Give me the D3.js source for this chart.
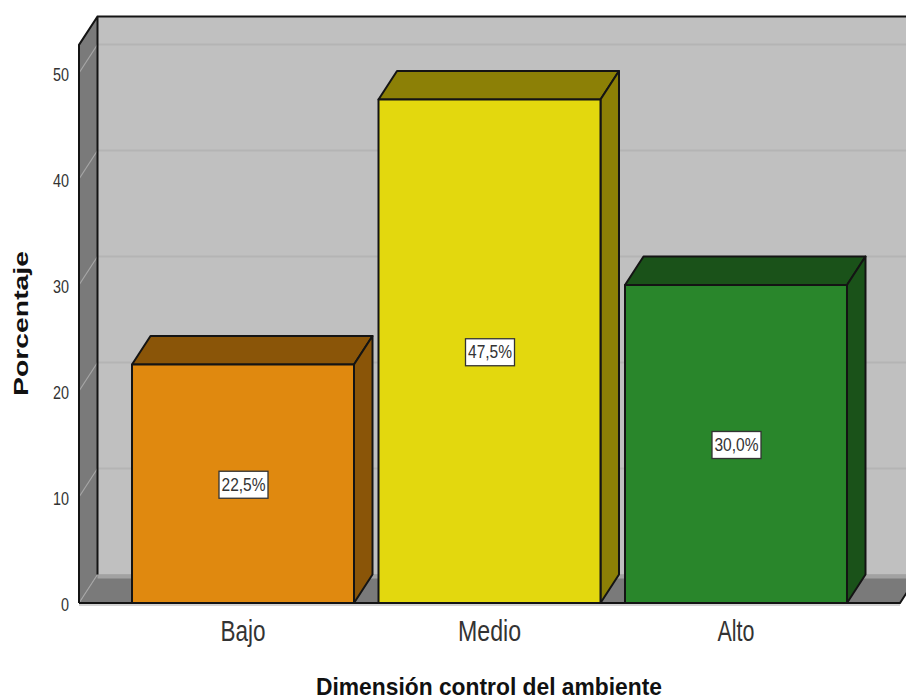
<!DOCTYPE html>
<html><head><meta charset="utf-8">
<script src="https://cdn.jsdelivr.net/npm/d3@7"></script>
<style>html,body{margin:0;padding:0;background:#fff;overflow:hidden}svg{display:block}text{font-family:"Liberation Sans",Arial,sans-serif}</style>
</head><body><svg id="c" width="906" height="700"></svg>
<script>
const categories = ["Bajo","Medio","Alto"];
const percentages = [22.5,47.5,30.0];
const valueLabels = ["22,5%","47,5%","30,0%"];
const frontColors = ["#e0890f","#e3d80e","#29862b"];
const shadeColors = ["#8a5508","#8c8006","#1a5219"];
const yTicks = [0,10,20,30,40,50];
const xTitle = "Dimensión control del ambiente";
const yTitle = "Porcentaje";

const W=906,H=700,dx=18.5,dy=-28.5;
const svg=d3.select("#c");
const y=d3.scaleLinear().domain([0,50]).range([603,73]);
const x=d3.scaleBand().domain(categories).range([120,859]).paddingInner(0.0994).paddingOuter(0.0487);
const wallL=79,floorR=900,wallT=y(52.65),INK="#141414";
const pts=a=>a.map(p=>p.join(",")).join(" ");

// back wall
svg.append("rect").attr("x",wallL+dx).attr("y",wallT+dy).attr("width",W-wallL-dx+20).attr("height",y(0)-wallT).attr("fill","#c0c0c0");
// left wall
svg.append("polygon").attr("points",pts([[wallL,wallT],[wallL+dx,wallT+dy],[wallL+dx,y(0)+dy],[wallL,y(0)]])).attr("fill","#7a7a7a");
// floor
svg.append("polygon").attr("points",pts([[wallL,y(0)],[wallL+dx,y(0)+dy],[floorR+dx,y(0)+dy],[floorR,y(0)]])).attr("fill","#7a7a7a");
svg.append("rect").attr("x",wallL+dx).attr("y",y(0)+dy).attr("width",W-wallL-dx).attr("height",4).attr("fill","#a2a2a2");
// gridlines
const g=svg.append("g");
yTicks.filter(d=>d>0).forEach(d=>{
  g.append("line").attr("x1",wallL+dx).attr("x2",W).attr("y1",y(d)+dy).attr("y2",y(d)+dy).attr("stroke","#b4b4b4").attr("stroke-width",2);
});
yTicks.forEach(d=>{
  g.append("line").attr("x1",wallL).attr("x2",wallL+dx).attr("y1",y(d)).attr("y2",y(d)+dy).attr("stroke","#a6a6a6").attr("stroke-width",1.2);
});
// wall outlines
svg.append("path").attr("fill","none").attr("stroke",INK).attr("stroke-width",2)
 .attr("d",`M${wallL},${y(0)}V${wallT}L${wallL+dx},${wallT+dy}H${W}M${wallL+dx},${wallT+dy}V${y(0)+dy}`);
svg.append("path").attr("fill","none").attr("stroke",INK).attr("stroke-width",2)
 .attr("d",`M${wallL},${y(0)}H${floorR}L${floorR+dx},${y(0)+dy}`);
svg.append("line").attr("x1",wallL).attr("x2",floorR).attr("y1",y(0)+2).attr("y2",y(0)+2).attr("stroke","#c4c4c4").attr("stroke-width",1.5);

// bars
const bars=svg.selectAll("g.bar").data(categories).join("g").attr("class","bar");
bars.each(function(c,i){
  const b=d3.select(this),x0=x(c),x1=x0+x.bandwidth(),yt=y(percentages[i]),yb=y(0);
  const st={stroke:INK,"stroke-width":2,"stroke-linejoin":"round"};
  const add=(t)=>{const e=b.append(t);Object.entries(st).forEach(([k,v])=>e.attr(k,v));return e;};
  add("polygon").attr("points",pts([[x0,yt],[x0+dx,yt+dy],[x1+dx,yt+dy],[x1,yt]])).attr("fill",shadeColors[i]);
  add("polygon").attr("points",pts([[x1,yt],[x1+dx,yt+dy],[x1+dx,yb+dy],[x1,yb]])).attr("fill",shadeColors[i]);
  add("rect").attr("x",x0).attr("y",yt).attr("width",x.bandwidth()).attr("height",yb-yt).attr("fill",frontColors[i]);
  // value label
  const cx=(x0+x1)/2+0.5, cy=y(percentages[i]/2)+1;
  b.append("rect").attr("x",cx-24.5).attr("y",cy-13.5).attr("width",49).attr("height",27).attr("fill","#fff").attr("stroke","#333").attr("stroke-width",1.3);
  b.append("text").attr("x",cx).attr("y",cy+6).attr("text-anchor","middle").attr("font-size",18).attr("fill","#333")
    .attr("textLength",44).attr("lengthAdjust","spacingAndGlyphs").text(valueLabels[i]);
});

// y axis labels
const ya=svg.append("g").attr("transform","translate(69,0)").call(d3.axisLeft(y).tickValues(yTicks).tickSize(0).tickPadding(0));
ya.select(".domain").remove();
ya.selectAll("text").attr("font-size",19).attr("fill","#333").attr("dy",null).attr("y",7)
  .attr("font-family",'"Liberation Sans"').attr("textLength",d=>d===0?8:16).attr("lengthAdjust","spacingAndGlyphs");
// x axis labels
const xa=svg.append("g").attr("transform","translate(0,641)").call(d3.axisBottom(x).tickSize(0).tickPadding(0));
xa.select(".domain").remove();
const catW={"Bajo":45,"Medio":63,"Alto":37};
xa.selectAll("text").attr("font-size",29).attr("fill","#333").attr("dy",null).attr("y",0)
  .attr("font-family",'"Liberation Sans"').attr("textLength",d=>catW[d]).attr("lengthAdjust","spacingAndGlyphs");
// titles
svg.append("text").attr("x",489).attr("y",695).attr("text-anchor","middle").attr("font-size",24).attr("font-weight","bold").attr("fill","#111")
  .attr("textLength",346).attr("lengthAdjust","spacingAndGlyphs").text(xTitle);
svg.append("text").attr("transform","translate(28,323.5) rotate(-90)").attr("text-anchor","middle").attr("font-size",21).attr("font-weight","bold").attr("fill","#111")
  .attr("textLength",145).attr("lengthAdjust","spacingAndGlyphs").text(yTitle);
</script></body></html>
